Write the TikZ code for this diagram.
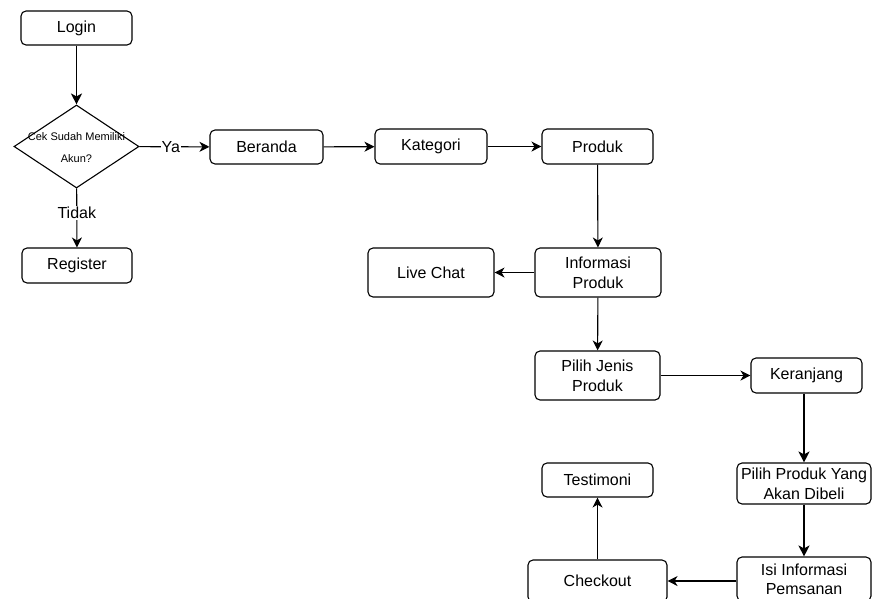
\documentclass[tikz,border=0pt]{standalone}
\usepackage{fontspec}
\setmainfont{Liberation Sans}
\usetikzlibrary{shapes.geometric,arrows.meta}
\begin{document}
\begin{tikzpicture}[x=1pt,y=-1pt,
  box/.style={draw, line width=1.1pt, rounded corners=5pt, align=center, inner sep=1pt,
    font=\fontsize{16}{20}\selectfont},
  arr/.style={line width=1.1pt, -{Stealth[length=10pt,width=10pt,inset=3pt]}},
  thickarr/.style={line width=1.8pt, -{Stealth[length=11pt,width=11pt,inset=3pt]}},
  lbl/.style={fill=white, inner sep=1pt, font=\fontsize{16}{20}\selectfont}
]
\useasboundingbox (0,0) rectangle (873,598);
\clip (0,0) rectangle (873,598);
\fill[white] (0,0) rectangle (873,598);

\node[box, minimum width=111pt, minimum height=34pt] (login) at (76.5,28) {Login};
\node[draw, diamond, line width=1.1pt, minimum width=125pt, minimum height=83pt, inner sep=0pt] (dec) at (76.5,146.5) {};
\node[align=center, font=\fontsize{11}{22}\selectfont] (dectext) at (76.5,148) {Cek Sudah Memiliki\\Akun?};
\node[box, minimum width=110pt, minimum height=35pt] (register) at (77,265.5) {Register};
\node[box, minimum width=113pt, minimum height=34pt] (beranda) at (266.5,147) {Beranda};
\node[box, minimum width=112pt, minimum height=35pt] (kategori) at (431,146.5) {Kategori};
\node[box, minimum width=111pt, minimum height=35pt] (produk) at (597.5,146.5) {Produk};
\node[box, minimum width=126pt, minimum height=49pt] (info) at (598,272.5) {Informasi\\Produk};
\node[box, minimum width=126pt, minimum height=49pt] (livechat) at (431,272.5) {Live Chat};
\node[box, minimum width=125pt, minimum height=49pt] (pilihjenis) at (597.5,375.5) {Pilih Jenis\\Produk};
\node[box, minimum width=111pt, minimum height=35pt] (keranjang) at (806.5,375.5) {Keranjang};
\node[box, minimum width=134pt, minimum height=41pt] (pilihproduk) at (804,483.5) {Pilih Produk Yang\\Akan Dibeli};
\node[box, minimum width=111pt, minimum height=34pt] (testimoni) at (597.5,480) {Testimoni};
\node[box, minimum width=139pt, minimum height=42pt] (checkout) at (597.5,581) {Checkout};
\node[box, minimum width=134pt, minimum height=44pt] (isi) at (804,579) {Isi Informasi\\[-1pt]Pemsanan};

\draw[thickarr] (login) -- (dec);
\draw[arr] (dec) -- node[lbl, pos=0.45] {Ya} (beranda);
\draw[arr] (dec) -- node[lbl, pos=0.42] {Tidak} (register);
\draw[arr] (beranda) -- (kategori);
\draw[arr] (kategori) -- (produk);
\draw[arr] (produk) -- (info);
\draw[arr] (info) -- (livechat);
\draw[arr] (info) -- (pilihjenis);
\draw[arr] (pilihjenis) -- (keranjang);
\draw[thickarr] (keranjang.south -| pilihproduk.north) -- (pilihproduk);
\draw[thickarr] (pilihproduk) -- (isi);
\draw[arr] (isi.west |- checkout.east) -- (checkout.east);
\draw[arr] (checkout) -- (testimoni);
\end{tikzpicture}
\end{document}
